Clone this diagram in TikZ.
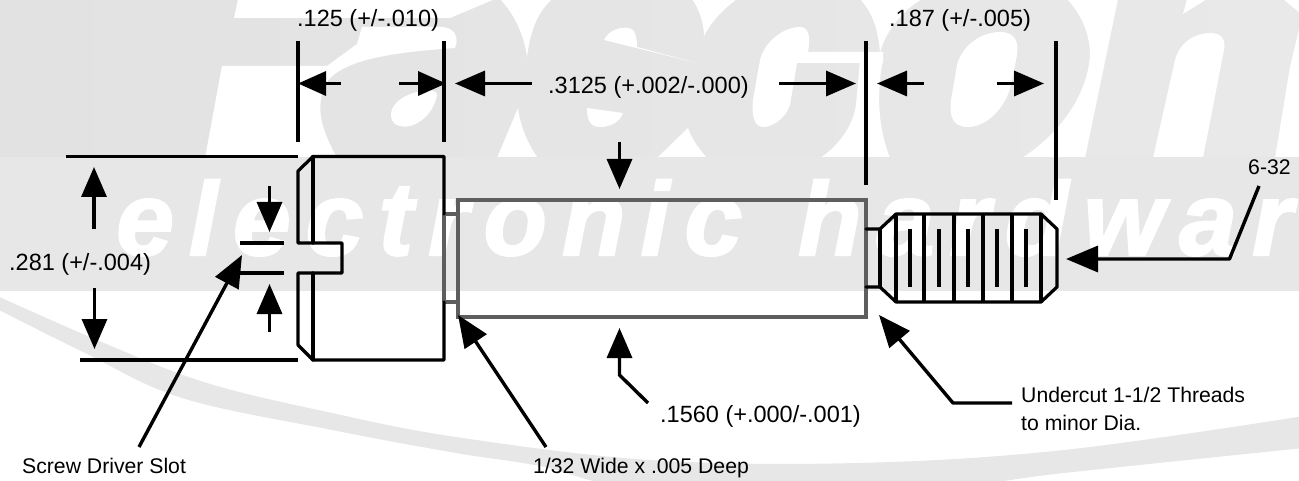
\documentclass[tikz,border=0pt]{standalone}
\usepackage{fontspec}
\setmainfont{Liberation Sans}
\newfontfamily\wmfont[LetterSpace=14.4,FakeBold=2]{Liberation Sans}
\usetikzlibrary{arrows.meta}
\definecolor{wmgrey}{HTML}{E7E7E7}
\definecolor{wmleft}{HTML}{E2E2E2}
\definecolor{wmright}{HTML}{E9E9E9}
\definecolor{bodygrey}{HTML}{5E5E5E}
\tikzset{
  big/.style={anchor=base west,inner sep=0pt,font=\fontsize{23.5}{28}\selectfont},
  small/.style={anchor=base west,inner sep=0pt,font=\fontsize{21.2}{26}\selectfont},
  part/.style={line width=3.2pt,line join=round,line cap=round,black},
  bodyline/.style={line width=3.2pt,line join=miter,bodygrey},
  ext/.style={line width=3.2pt,black},
  dim/.style={line width=3.4pt,black,-{Triangle[length=30pt,width=25pt]}},
  dimshort/.style={line width=3.4pt,black,-{Triangle[length=28pt,width=24pt]}},
  leader/.style={line width=3.4pt,black,line join=round,-{Triangle[length=32pt,width=26pt]}},
  hole/.style={fill=white,draw=none}
}
\begin{document}
\begin{tikzpicture}[x=1pt,y=-1pt]
\useasboundingbox (0,0) rectangle (1299,481);
% ---- watermark ----
\begin{scope}
\clip (0,0) rectangle (1299,481);
\shade[left color=wmleft,right color=wmright] (0,0) rectangle (1299,158);
% F / a
\fill[hole] (238,-1) -- (234,18) -- (450,18) -- (495,-1) -- cycle;
\fill[hole] (222,66) -- (205,158) -- (337,158) .. controls (322,130) and (315,110) .. (325,85)
   .. controls (340,58) and (400,52) .. (455,48) .. controls (459,38) and (456,27) .. (440,27)
   -- (362,27) -- (357,44) -- (327,66) -- cycle;
\fill[hole] (427,90) .. controls (410,92) and (393,100) .. (391,113) .. controls (390,125) and (400,128) .. (410,126)
   .. controls (425,122) and (435,108) .. (437,95) .. controls (437,91) and (432,90) .. (427,90) -- cycle;
% a / s
\fill[hole] (500,-1) .. controls (515,15) and (524,35) .. (527,57) .. controls (530,35) and (535,15) .. (552,-1) -- cycle;
\fill[hole] (497,158) -- (518,108) .. controls (520,125) and (528,145) .. (538,158) -- cycle;
% s
\fill[hole] (604,40) .. controls (608,30) and (625,24) .. (633,30) .. controls (637,35) and (637,42) .. (637,47)
   -- (697,63) -- cycle;
\fill[hole] (587,108) -- (623,113) .. controls (620,122) and (610,127) .. (600,127) .. controls (590,127) and (587,120) .. (587,108) -- cycle;
\fill[hole] (657,158) -- (688,128) .. controls (692,140) and (700,150) .. (707,158) -- cycle;
% s / c
\fill[hole] (692,-1) .. controls (700,10) and (704,25) .. (704,36) .. controls (712,20) and (725,8) .. (737,-1) -- cycle;
% c counter and aperture
\fill[hole] (800,27) .. controls (808,27) and (811,35) .. (808,52) -- (883,52) -- (883,63) -- (797,63)
   -- (790,105) .. controls (785,120) and (770,128) .. (762,127) .. controls (752,125) and (752,110) .. (753,100)
   -- (760,60) .. controls (765,40) and (785,27) .. (800,27) -- cycle;
% c / o
\fill[hole] (860,-1) .. controls (870,10) and (878,25) .. (880,53) .. controls (884,35) and (900,12) .. (922,-1) -- cycle;
\fill[hole] (860,60) -- (883,60) .. controls (877,90) and (877,125) .. (890,158) -- (820,158) .. controls (840,145) and (853,125) .. (856,105) -- cycle;
% o
\fill[hole] (1000,32) .. controls (1015,32) and (1019,42) .. (1017,55) -- (1011,85) .. controls (1005,110) and (985,127) .. (968,127)
   .. controls (952,127) and (949,115) .. (951,100) -- (957,65) .. controls (962,45) and (982,32) .. (1000,32) -- cycle;
% o / n
\fill[hole] (1067,-1) .. controls (1082,15) and (1090,35) .. (1090,55) .. controls (1088,90) and (1065,130) .. (1022,158)
   -- (1085,158) -- (1118,-1) -- cycle;
% n
\fill[hole] (1153,158) -- (1175,60) .. controls (1180,42) and (1195,33) .. (1210,33) .. controls (1222,33) and (1226,40) .. (1224,50)
   -- (1203,158) -- cycle;
\fill[hole] (1187,-1) -- (1183,14) -- (1207,-1) -- cycle;
\fill[hole] (1283,-1) -- (1300,13) -- (1300,-1) -- cycle;
\fill[hole] (1300,25) -- (1290,67) -- (1275,158) -- (1300,158) -- cycle;
% band
\fill[wmgrey] (0,157) rectangle (1299,291);
\node[anchor=base west,inner sep=0pt,white,font=\fontsize{104}{110}\wmfont\bfseries\itshape] (wmtext) at (116,255) {electronic\hspace{12pt} hardware};
% swoosh
\fill[wmgrey] plot[smooth,tension=0.6] coordinates {(-5,295) (104,343) (207,383) (332,413) (456,437) (650,460) (857,463) (1064,450) (1304,416)}
  -- plot[smooth,tension=0.6] coordinates {(1304,448) (1064,473) (900,492) (650,490) (540,466) (456,453) (332,430) (182,398) (83,352) (-5,308)} -- cycle;
\end{scope}
% ---- texts ----
\node[big] (t125) at (297,27) {.125 (+/-.010)};
\node[big] (t3125) at (548,94) {.3125 (+.002/-.000)};
\node[big] (t187) at (889,27) {.187 (+/-.005)};
\node[big] (t281) at (9,270) {.281 (+/-.004)};
\node[big] (t1560) at (660,422) {.1560 (+.000/-.001)};
\node[small] (t632) at (1248,175) {6-32};
\node[small] (tslot) at (22,473) {Screw Driver Slot};
\node[small] (twide) at (533,473) {1/32 Wide x .005 Deep};
\node[small] (tunder) at (1021,402) {Undercut 1-1/2 Threads};
\node[small] (tminor) at (1021,430) {to minor Dia.};
% ---- extension lines ----
\draw[ext] (298,41) -- (298,142);
\draw[ext] (444,41) -- (444,142);
\draw[ext] (866,41) -- (866,185);
\draw[ext] (1056,41) -- (1056,200);
\draw[ext] (66,156.5) -- (298,156.5);
\draw[ext] (80,360) -- (298,360);
\draw[ext] (240,243) -- (284,243);
\draw[ext] (240,273) -- (284,273);
% ---- body ----
\draw[bodyline] (458,200) rectangle (866,317);
\draw[bodyline] (444,302) -- (458,302);
\draw[bodyline] (444,214) -- (458,214);
\draw[bodyline] (444,214) -- (444,302);
% ---- head ----
\draw[part] (444,214) -- (444,156.5) -- (313,156.5) -- (298,171) -- (298,243) -- (342,243) -- (342,273) -- (298,273)
   -- (298,345) -- (313,360) -- (444,360) -- (444,302);
\draw[part] (313,156.5) -- (313,243);
\draw[part] (313,273) -- (313,360);
% ---- stud ----
\draw[part] (866,229) -- (880,229) -- (896,214) -- (1041,214) -- (1057,229) -- (1057,287) -- (1041,302) -- (896,302) -- (880,287) -- (866,287);
\draw[part] (880,229) -- (880,287);
\foreach \xx in {896,924,954,983,1012,1041} \draw[part,line cap=butt] (\xx,214) -- (\xx,302);
\foreach \xx in {910,939,968,997,1026} \draw[part,line cap=butt] (\xx,229) -- (\xx,287);
% ---- dimension arrows ----
\draw[dimshort] (341,83.5) -- (298,83.5);
\draw[dimshort] (399,83.5) -- (446,83.5);
\draw[dim] (532,83.5) -- (455,83.5);
\draw[dim] (779,83.5) -- (856,83.5);
\draw[dim] (924,83.5) -- (877,83.5);
\draw[dim] (997,83.5) -- (1044,83.5);
\draw[dim] (94,229) -- (94,167);
\draw[dim] (94.5,288) -- (94.5,349);
\draw[dim] (269.5,186) -- (269.5,232);
\draw[dim] (269.5,332) -- (269.5,284);
\draw[dim] (619.5,142) -- (619.5,189);
% ---- leaders ----
\coordinate (slotstart) at (139,447);
\coordinate (slottip) at (242,255);
\draw[leader] (slotstart) -- (slottip);
\coordinate (widestart) at (546,447);
\coordinate (widetip) at (458,315);
\draw[leader] (widestart) -- (widetip);
\coordinate (dstart) at (648,403);
\coordinate (dbend) at (619.5,375);
\coordinate (dtip) at (619.5,328);
\draw[dim] (dstart) -- (dbend) -- (dtip);
\coordinate (ustart) at (1012,403);
\coordinate (ubend) at (953,403);
\coordinate (utip) at (879,315);
\draw[leader] (ustart) -- (ubend) -- (utip);
\coordinate (tstart) at (1259,186);
\coordinate (tbend) at (1229.5,259);
\coordinate (ttip) at (1066,259);
\draw[leader] (tstart) -- (tbend) -- (ttip);
\end{tikzpicture}
\end{document}
